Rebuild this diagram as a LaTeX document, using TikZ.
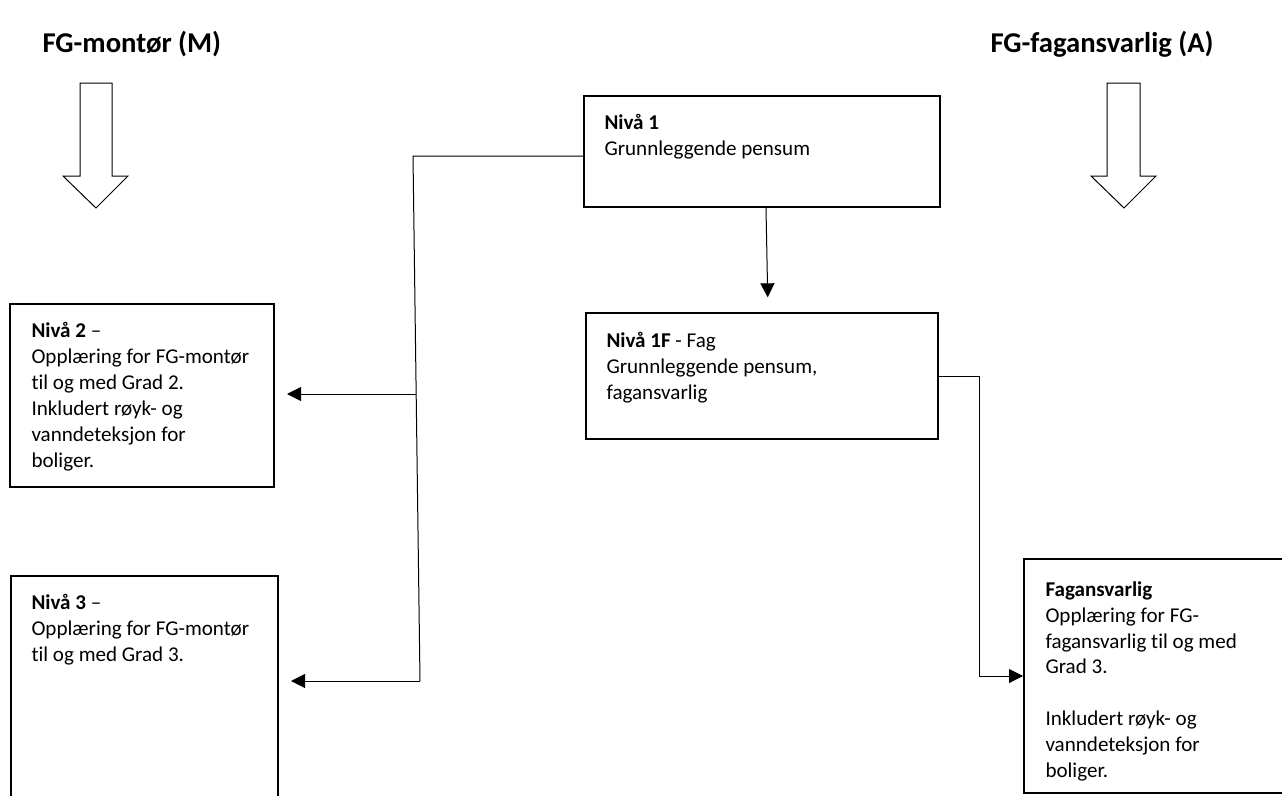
\documentclass[tikz,border=0pt]{standalone}
\usepackage{fontspec}
\setmainfont{Carlito}[Ligatures={TeX,NoCommon}]
\usetikzlibrary{arrows.meta,fit}

\tikzset{every picture/.style={line width=0.75pt}}
\tikzset{
  boks/.style={draw, line width=1.5pt, inner sep=0pt},
  tekst/.style={anchor=north west, inner sep=0.75pt, align=left, font=\fontsize{15.8pt}{19.4pt}\selectfont},
  tittel/.style={anchor=base west, inner sep=0.75pt, font=\fontsize{21.5pt}{25pt}\selectfont\bfseries},
  pil/.style={-{Triangle[length=10.5pt,width=10.5pt]}},
}

\begin{document}
\begin{tikzpicture}[x=0.75pt,y=0.75pt,yscale=-1,xscale=1]
\useasboundingbox (0,0) rectangle (1282,796);

% Text Node
\node[tittel] (tm) at (41,52) {FG-montør (M)};
% Text Node
\node[tittel] (ta) at (989,52) {FG-fagansvarlig (A)};

%Shape: Down Arrow
\draw (80,83) -- (112,83) -- (112,176) -- (128,176) -- (96,208) -- (63,176) -- (80,176) -- cycle ;
%Shape: Down Arrow
\draw (1107,83) -- (1140,83) -- (1140,176) -- (1156,176) -- (1124,208) -- (1091,176) -- (1107,176) -- cycle ;

%Shape: Rectangle
\node[boks, fit={(584,96) (940,207)}] (niva1) {};
%Shape: Rectangle
\node[boks, fit={(586,313) (938,439)}] (niva1f) {};
%Shape: Rectangle
\node[boks, fit={(10,304) (274,487)}] (niva2) {};
%Shape: Rectangle
\node[boks, fit={(11,576) (278,810)}] (niva3) {};
%Shape: Rectangle
\node[boks, fit={(1024,559) (1300,793)}] (fagansv) {};

% Text Node
\node[tekst] (t1) at (603,113) {\textbf{Nivå 1}\\Grunnleggende pensum};
% Text Node
\node[tekst] (t1f) at (605,331) {\textbf{Nivå 1F} - Fag\\Grunnleggende pensum,\\fagansvarlig};
% Text Node
\node[tekst] (t2) at (30,321) {\textbf{Nivå 2} –\\Opplæring for FG-montør\\til og med Grad 2.\\Inkludert røyk- og\\vanndeteksjon for\\boliger.};
% Text Node
\node[tekst] (t3) at (30,593) {\textbf{Nivå 3} –\\Opplæring for FG-montør\\til og med Grad 3.};
% Text Node
\node[tekst] (tf) at (1044,580) {\textbf{Fagansvarlig}\\Opplæring for FG-\\fagansvarlig til og med\\Grad 3.\\[19.4pt]Inkludert røyk- og\\vanndeteksjon for\\boliger.};

% Connectors
\coordinate (kn1) at (413,156);
\coordinate (kn2) at (420,681);
\coordinate (kn3) at (416,394);
\coordinate (kf) at (979,676);
\draw (niva1.west |- kn1) -- (kn1) -- (kn2) ;
\draw[pil, shorten >=9pt] (kn3) -- (kn3 -| niva2.east) ;
\draw[pil, shorten >=9pt] (kn2) -- (kn2 -| niva3.east) ;
\draw[pil, shorten >=11pt] (766,0 |- niva1.south) -- (768,0 |- niva1f.north) ;
\draw[pil] (niva1f.east) -| (kf) -- (kf -| fagansv.west) ;

\end{tikzpicture}
\end{document}
